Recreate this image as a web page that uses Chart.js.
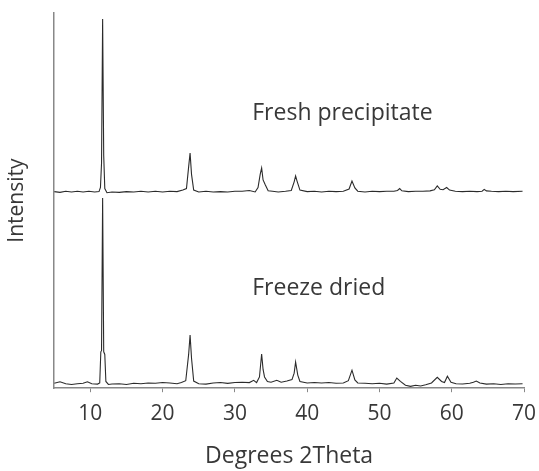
<!DOCTYPE html>
<html>
<head>
<meta charset="utf-8">
<script src="https://cdn.jsdelivr.net/npm/chart.js@4/dist/chart.umd.min.js"></script>
<style>
  html, body { margin: 0; padding: 0; background: #fff; }
  #wrap { width: 539px; height: 471px; }
</style>
</head>
<body>
<div id="wrap"><canvas id="xrd"></canvas></div>
<script>
// 2theta positions and intensities (top trace already sits above the bottom one)
const freshTheta = [5.0, 5.8, 6.6, 7.4, 8.2, 9.0, 9.8, 10.6, 11.2, 11.4, 11.55, 11.7, 11.85, 12.0, 12.3, 13, 14, 15, 16, 17, 18, 19, 20, 21, 22, 22.8, 23.3, 23.6, 23.8, 24.0, 24.3, 25, 26, 27, 28, 29, 30, 31, 32, 32.8, 33.2, 33.5, 33.7, 33.9, 34.2, 34.6, 35.2, 36, 37, 37.8, 38.2, 38.4, 38.6, 39.0, 40, 41, 42, 43, 44, 45, 45.8, 46.2, 46.6, 47, 48, 49, 50, 51, 52, 52.5, 52.8, 53.1, 54, 55, 56, 57, 57.6, 58.0, 58.4, 58.8, 59.3, 59.7, 60.5, 61.5, 62.5, 63.5, 64.2, 64.5, 64.8, 65.5, 66.5, 67.5, 68.5, 69.8];
const freshInt = [52.4, 52.2, 52.5, 52.3, 52.5, 52.3, 52.5, 52.3, 52.4, 53.5, 60, 98.4, 62, 53.2, 52.1, 52.3, 52.2, 52.4, 52.3, 52.5, 52.3, 52.5, 52.3, 52.5, 52.4, 52.8, 53.2, 59, 62.7, 57, 52.8, 52.3, 52.5, 52.3, 52.4, 52.3, 52.5, 52.5, 52.7, 52.3, 53.5, 57, 58.7, 55.5, 54.2, 52.6, 52.5, 52.3, 52.5, 52.7, 55, 56.6, 55.2, 52.8, 52.4, 52.5, 52.3, 52.5, 52.4, 52.5, 53.1, 55.2, 53.4, 52.5, 52.3, 52.5, 52.4, 52.5, 52.5, 52.7, 53.2, 52.6, 52.4, 52.5, 52.5, 52.6, 52.9, 53.9, 53.0, 52.9, 53.5, 52.8, 52.5, 52.4, 52.5, 52.4, 52.5, 53.0, 52.6, 52.5, 52.4, 52.5, 52.4, 52.5];

const driedTheta = [5.0, 5.8, 6.6, 7.4, 8.2, 9.0, 9.6, 10.2, 11.0, 11.3, 11.45, 11.55, 11.7, 11.85, 12.0, 12.15, 12.5, 13, 14, 15, 16, 17, 18, 19, 20, 21, 22, 22.6, 23.2, 23.6, 23.8, 24.0, 24.3, 25, 26, 27, 28, 29, 30, 31, 32, 32.6, 33.0, 33.4, 33.7, 33.9, 34.1, 34.5, 35, 35.8, 36.4, 37.2, 37.9, 38.2, 38.4, 38.7, 39.0, 40, 41, 42, 43, 44, 45, 45.7, 46.2, 46.6, 47, 48, 49, 50, 51, 52, 52.4, 52.9, 53.6, 54.3, 55, 55.7, 56.4, 57.2, 58.0, 58.6, 59.0, 59.4, 59.9, 60.6, 61.5, 62.5, 63.0, 63.4, 63.9, 64.8, 65.8, 66.8, 67.8, 68.8, 69.8];
const driedInt = [1.3, 1.7, 1.2, 1.0, 1.2, 1.3, 1.7, 1.2, 1.1, 1.4, 9.7, 10, 50.7, 9.7, 9, 1.8, 1.0, 1.1, 1.2, 1.0, 1.3, 1.2, 1.4, 1.3, 1.5, 1.4, 1.2, 1.5, 2.0, 9, 14.2, 8, 1.9, 1.2, 1.1, 1.4, 1.5, 1.3, 1.5, 1.6, 1.5, 2.1, 1.5, 3, 9.1, 5, 3.0, 1.8, 1.6, 2.1, 1.6, 1.9, 2.3, 4, 7.0, 3.5, 1.8, 1.4, 1.5, 1.4, 1.5, 1.3, 1.4, 2.0, 4.8, 2.2, 1.4, 1.3, 1.2, 1.3, 1.1, 1.4, 2.7, 1.8, 0.8, 0.5, 0.8, 0.6, 0.9, 1.4, 2.9, 1.8, 1.5, 3.2, 1.6, 1.2, 1.1, 1.3, 1.6, 1.9, 1.4, 1.1, 1.2, 1.0, 1.2, 1.1, 1.2];

const xTicks = [10, 20, 30, 40, 50, 60, 70];
const traceNames = ['Fresh precipitate', 'Freeze dried'];
const traceLabelAt = [[32.4, 73.2], [32.4, 26.5]];

const FONT = '"Open Sans", Lato, sans-serif';
const INK = '#383838';

const toPoints = (xs, ys) => xs.map((x, i) => ({ x: x, y: ys[i] }));

const traceLabels = {
  id: 'traceLabels',
  afterDatasetsDraw(chart) {
    const { ctx, scales } = chart;
    ctx.save();
    ctx.fillStyle = INK;
    ctx.font = '23px ' + FONT;
    ctx.textAlign = 'left';
    ctx.textBaseline = 'middle';
    traceNames.forEach((t, i) => {
      ctx.fillText(t, scales.x.getPixelForValue(traceLabelAt[i][0]), scales.y.getPixelForValue(traceLabelAt[i][1]));
    });
    ctx.restore();
  }
};

new Chart(document.getElementById('xrd').getContext('2d'), {
  type: 'line',
  data: {
    datasets: [
      { label: traceNames[0], data: toPoints(freshTheta, freshInt), borderColor: '#2b2b2b', borderWidth: 1.1, pointRadius: 0, tension: 0, fill: false },
      { label: traceNames[1], data: toPoints(driedTheta, driedInt), borderColor: '#2b2b2b', borderWidth: 1.1, pointRadius: 0, tension: 0, fill: false }
    ]
  },
  options: {
    responsive: true,
    maintainAspectRatio: false,
    animation: false,
    layout: { padding: { top: 13, right: 4, left: 2, bottom: 1 } },
    plugins: { legend: { display: false }, tooltip: { enabled: false } },
    scales: {
      x: {
        type: 'linear',
        min: 5,
        max: 70,
        afterBuildTicks: axis => { axis.ticks = xTicks.map(v => ({ value: v })); },
        afterFit: axis => { axis.paddingRight = 15; },
        ticks: { color: INK, font: { family: FONT, size: 21 }, padding: 9, maxRotation: 0 },
        grid: { display: true, drawOnChartArea: false, drawTicks: true, tickLength: 4, color: '#888' },
        border: { display: true, color: '#888', width: 1.5 },
        title: { display: true, text: 'Degrees 2Theta', color: INK, font: { family: FONT, size: 23 }, padding: { top: 7, bottom: 0 } }
      },
      y: {
        min: 0,
        max: 100,
        ticks: { display: false },
        grid: { display: false },
        border: { display: true, color: '#888', width: 1.5 },
        title: { display: true, text: 'Intensity', color: INK, font: { family: FONT, size: 21 }, padding: { top: 2, bottom: 17 } }
      }
    }
  },
  plugins: [traceLabels]
});
</script>
</body>
</html>
